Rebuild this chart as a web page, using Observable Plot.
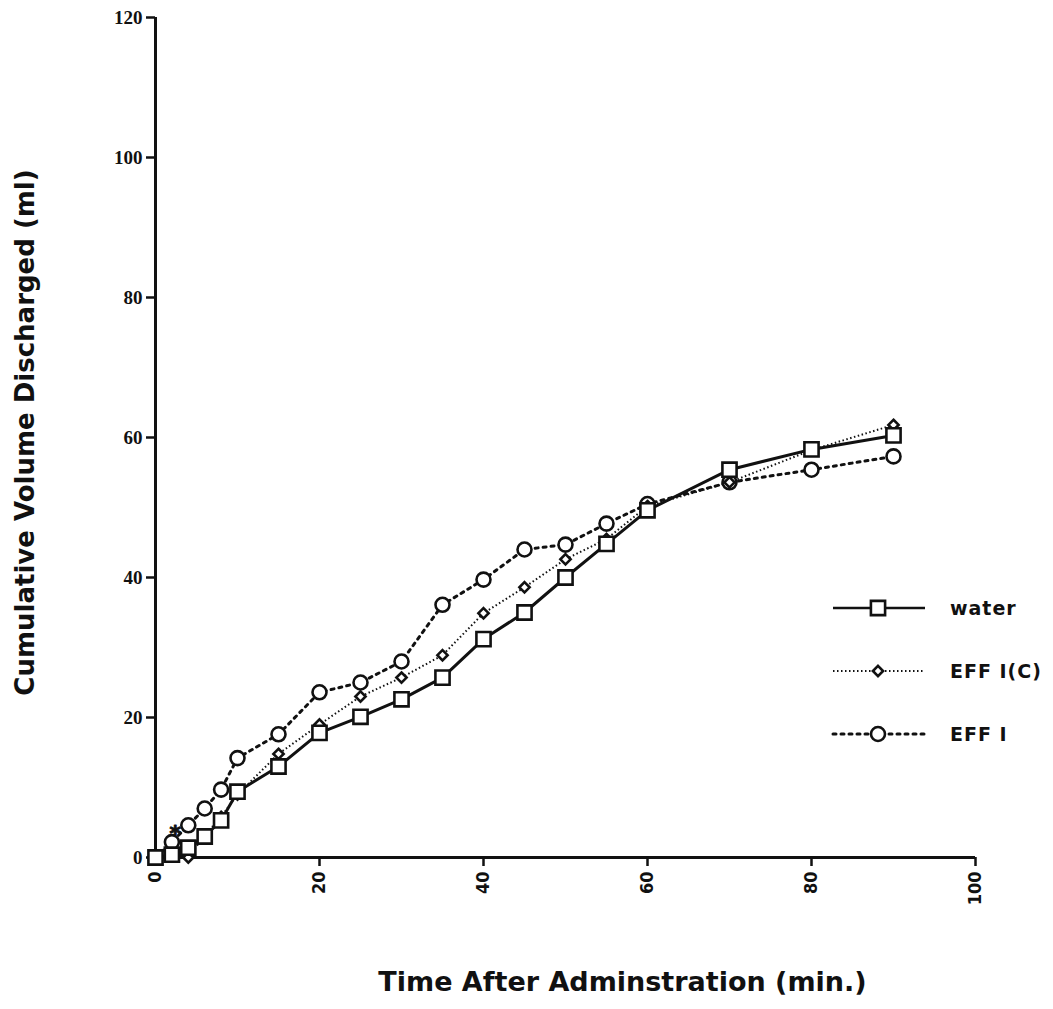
<!DOCTYPE html>
<html><head><meta charset="utf-8">
<script src="https://cdn.jsdelivr.net/npm/d3@7"></script>
<script src="https://cdn.jsdelivr.net/npm/@observablehq/plot@0.6"></script>
<style>
body{margin:0;background:#fff;}
#wrap{position:relative;width:1053px;height:1009px;overflow:hidden;}
#legend{position:absolute;left:820px;top:585px;}
</style></head><body><div id="wrap"><div id="chart"></div><div id="legend"></div></div>
<script>
// ---- data ----
const times = [0, 2, 4, 6, 8, 10, 15, 20, 25, 30, 35, 40, 45, 50, 55, 60, 70, 80, 90];
const water = [0, 0.4, 1.4, 3.0, 5.3, 9.4, 13.0, 17.8, 20.1, 22.6, 25.7, 31.2, 35.0, 40.0, 44.8, 49.6, 55.4, 58.3, 60.3];
const effIC = [0, 0.4, 0, 3.2, 5.8, 9.0, 14.8, 19.0, 23.0, 25.7, 28.9, 34.9, 38.6, 42.6, 45.5, 50.2, 53.6, 58.2, 61.8];
const effI  = [0, 2.2, 4.6, 7.0, 9.7, 14.2, 17.6, 23.6, 25.0, 28.0, 36.1, 39.7, 44.0, 44.7, 47.7, 50.5, 53.6, 55.4, 57.3];
const seriesNames = ["water", "EFF I(C)", "EFF I"];
const xTicks = [0, 20, 40, 60, 80, 100];
const yTicks = [0, 20, 40, 60, 80, 100, 120];
const xTitle = "Time After Adminstration (min.)";
const yTitle = "Cumulative Volume Discharged (ml)";
const annotations = [{time: 2.4, value: 3.4, label: "*"}];

// ---- styles ----
const ink = "#111";
const styles = {
  "water":    {dash: null,      width: 3, cap: "butt",  symbol: "square",   r: 8,   sw: 2.6, lw: 2.5},
  "EFF I(C)": {dash: "1.5,2.5", width: 2, cap: "butt",  symbol: "diamond2", r: 4.6, sw: 2.6, lw: 2},
  "EFF I":    {dash: "3,5",     width: 3, cap: "round", symbol: "circle",   r: 7,   sw: 2.6, lw: 3}
};
const serieValues = [water, effIC, effI];
const rows = [];
seriesNames.forEach((name, i) => times.forEach((t, j) => rows.push({series: name, time: t, value: serieValues[i][j]})));
const drawOrder = ["EFF I", "EFF I(C)", "water"];
const titleFont = "'DejaVu Sans', sans-serif";

const marks = [
  Plot.ruleX([xTicks[0]], {y1: yTicks[0], y2: yTicks[yTicks.length - 1], stroke: ink, strokeWidth: 3}),
  Plot.ruleY([yTicks[0]], {x1: xTicks[0], x2: xTicks[xTicks.length - 1], stroke: ink, strokeWidth: 3}),
  Plot.axisY(yTicks, {tickSize: 9, tickPadding: 4, strokeWidth: 2.5, stroke: ink, label: null,
    fontSize: 19, fontFamily: "'Liberation Serif', serif", fontWeight: "bold", tickFormat: d => d}),
  Plot.axisX(xTicks, {tickSize: 9, tickPadding: 5, strokeWidth: 2.5, stroke: ink, label: null, tickRotate: -90,
    fontSize: 18, fontFamily: "'DejaVu Sans Condensed', sans-serif", fontWeight: "bold", tickFormat: d => d}),
];
for (const name of drawOrder) {
  const s = styles[name];
  const data = rows.filter(d => d.series === name);
  marks.push(Plot.line(data, {x: "time", y: "value", stroke: ink, strokeWidth: s.width,
    strokeDasharray: s.dash, strokeLinecap: s.cap}));
}
for (const name of drawOrder) {
  const s = styles[name];
  const data = rows.filter(d => d.series === name);
  marks.push(Plot.dot(data, {x: "time", y: "value", symbol: s.symbol, r: s.r, fill: "white", stroke: ink, strokeWidth: s.sw}));
}
marks.push(Plot.text(annotations, {x: "time", y: "value", text: "label", fontSize: 22, fontWeight: "bold",
  fill: ink, stroke: ink, strokeWidth: 1, fontFamily: "'DejaVu Sans', sans-serif"}));
marks.push(Plot.text([xTitle], {text: d => d, frameAnchor: "bottom", textAnchor: "middle", dx: 57, dy: 133, fontSize: 27,
  fontWeight: "bold", fontFamily: titleFont, fill: ink}));
marks.push(Plot.text([yTitle], {text: d => d, frameAnchor: "left", textAnchor: "middle", rotate: -90, dx: -130, dy: -5, fontSize: 26,
  fontWeight: "bold", fontFamily: titleFont, fill: ink}));

const chart = Plot.plot({
  width: 1053, height: 1009,
  marginLeft: 155, marginRight: 78, marginTop: 17, marginBottom: 152,
  x: {domain: [xTicks[0], xTicks[xTicks.length - 1]]},
  y: {domain: [yTicks[0], yTicks[yTicks.length - 1]]},
  style: {background: "#fff", color: ink},
  marks
});
document.getElementById("chart").append(chart);

// ---- legend ----
const lg = d3.select("#legend").append("svg").attr("width", 233).attr("height", 170);
seriesNames.forEach((name, i) => {
  const s = styles[name];
  const cy = 23 + i * 63;
  const g = lg.append("g");
  g.append("line").attr("x1", 13).attr("x2", 105).attr("y1", cy).attr("y2", cy)
    .attr("stroke", ink).attr("stroke-width", s.lw).attr("stroke-dasharray", s.dash)
    .attr("stroke-linecap", s.cap);
  const sym = {square: d3.symbolSquare, diamond2: d3.symbolDiamond2, circle: d3.symbolCircle}[s.symbol];
  g.append("path").attr("d", d3.symbol(sym, Math.PI * s.r * s.r)())
    .attr("transform", `translate(58,${cy})`).attr("fill", "white").attr("stroke", ink).attr("stroke-width", s.sw);
  g.append("text").attr("x", 130).attr("y", cy).attr("dy", "0.35em").text(name)
    .attr("font-family", titleFont).attr("font-weight", "bold").attr("font-size", 19)
    .attr("letter-spacing", "1px").attr("fill", ink);
});
</script></body></html>
